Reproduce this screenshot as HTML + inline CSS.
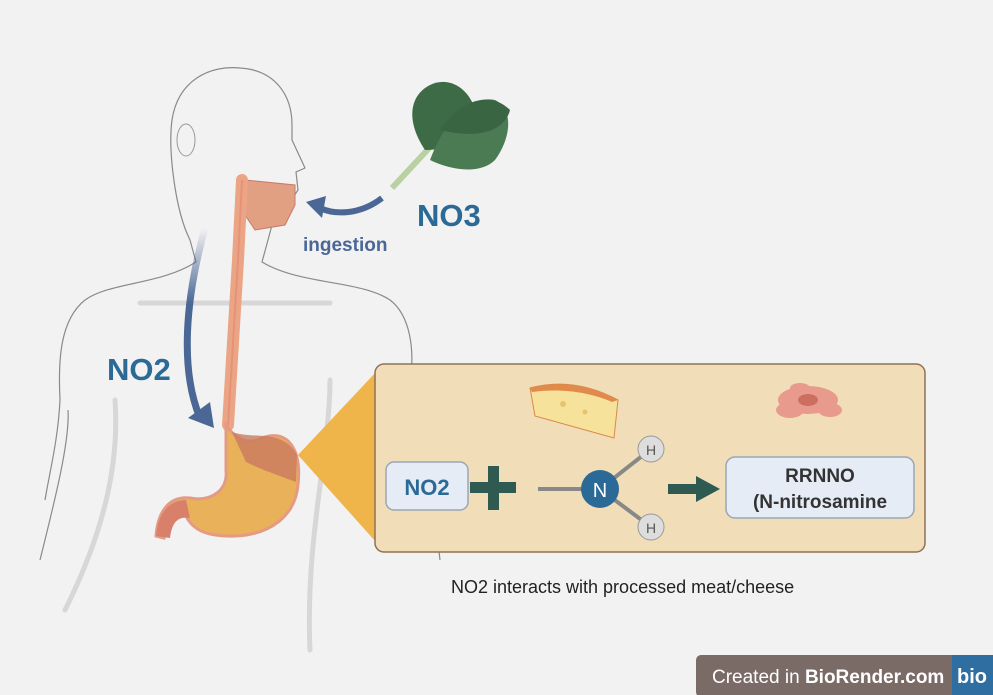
<!DOCTYPE html>
<html><head><meta charset="utf-8"><style>
body{margin:0;width:993px;height:695px;background:#f3f2f2;overflow:hidden;font-family:"Liberation Sans",sans-serif}
svg{position:absolute;left:0;top:0}
</style></head><body>
<svg width="993" height="695" viewBox="0 0 993 695">
<g fill="none" stroke="#8a8a8a" stroke-width="1.2">
<path d="M190,240 C175,210 168,150 172,120 C178,80 210,65 240,68 C275,70 292,95 292,125 L292,140 L305,168 L296,172 L298,190 L288,205 L276,210 L268,240 L262,262 C300,285 360,280 390,300 C410,315 415,350 410,380"/>
<path d="M190,240 L196,262 C160,285 110,282 85,300 C60,320 58,360 60,400 C58,440 50,470 45,500"/>
<path d="M68,410 C70,440 55,500 40,560"/>
<path d="M410,380 C420,430 430,470 440,560"/>
</g>
<g fill="none" stroke="#d8d6d6" stroke-width="5" stroke-linecap="round">
<path d="M115,400 C120,470 100,540 65,610"/>
<path d="M330,380 C330,450 305,540 310,650"/>
<path d="M140,303 L330,303"/>
</g>
<ellipse cx="186" cy="140" rx="9" ry="16" fill="none" stroke="#999"/>
<path d="M245,180 L295,185 L295,205 L285,225 L255,230 L245,215 Z" fill="#e2a083" stroke="#c9786a" stroke-width="1"/>
<path d="M242,180 L238,260 L228,425" stroke="#eba585" stroke-width="12" fill="none" stroke-linecap="round"/>
<path d="M242,180 L238,260 L228,425" stroke="#e6927a" stroke-width="2" fill="none"/>
<path d="M226,425 C236,440 250,445 262,438 C288,428 302,450 298,485 C294,528 250,542 210,534 C196,531 188,522 184,512 C176,510 168,520 164,538 L156,536 C158,510 170,496 190,498 C212,502 228,490 226,470 Z" fill="#e8b15a" stroke="#e59a83" stroke-width="3"/>
<path d="M232,432 C255,440 282,428 297,455 L296,482 C280,476 262,470 246,462 Z" fill="#c97a5f" opacity=".8"/>
<path d="M156,536 C158,512 170,500 186,500 L190,518 C178,516 172,522 170,538 Z" fill="#d8806a"/>
<defs><linearGradient id="g" x1="0" y1="0" x2="0" y2="1"><stop offset="0" stop-color="#4a6796" stop-opacity="0"/><stop offset=".4" stop-color="#4a6796"/></linearGradient></defs>
<path d="M205,228 C185,300 180,370 200,418" stroke="url(#g)" stroke-width="7" fill="none"/>
<path d="M188,418 L214,428 L210,402 Z" fill="#4a6796"/>
<path d="M382,198 C360,215 335,215 320,208" stroke="#4a6796" stroke-width="6" fill="none"/>
<path d="M306,202 L326,196 L322,218 Z" fill="#4a6796"/>
<g>
<path d="M392,188 L432,145" stroke="#b9d1a2" stroke-width="6"/>
<path d="M425,150 C405,120 410,95 430,85 C450,75 470,90 475,110 C480,130 460,150 425,150Z" fill="#3d6b46"/>
<path d="M430,160 C445,120 470,95 495,100 C515,110 510,140 495,160 C480,175 450,170 430,160Z" fill="#4b7b52"/>
<path d="M440,130 C460,100 490,90 510,110 C505,130 480,140 440,130Z" fill="#3a6543"/>
</g>
<path d="M298,455 L376,372 L376,542 Z" fill="#efb54a"/>
<rect x="375" y="364" width="550" height="188" rx="9" fill="#f1ddb8" stroke="#8f7156" stroke-width="1.5"/>
<path d="M530,388 C560,380 590,385 618,400 L614,438 L535,416 Z" fill="#f7e29c" stroke="#d88a4a"/>
<path d="M530,388 C560,380 590,385 618,400 L612,402 C590,392 560,388 532,392Z" fill="#e08a4c"/>
<circle cx="563" cy="404" r="3" fill="#e5c46c"/><circle cx="585" cy="412" r="2.5" fill="#e5c46c"/>
<g fill="#e89a8c"><ellipse cx="808" cy="400" rx="30" ry="14"/><ellipse cx="790" cy="410" rx="14" ry="8"/><ellipse cx="830" cy="410" rx="12" ry="7"/><ellipse cx="800" cy="388" rx="10" ry="5"/></g>
<ellipse cx="808" cy="400" rx="10" ry="6" fill="#cc6e60"/>
<rect x="386" y="462" width="82" height="48" rx="8" fill="#e6ecf5" stroke="#9aa6b6" stroke-width="1.5"/>
<text x="427" y="495" text-anchor="middle" font-size="22" font-weight="bold" fill="#2b6a96">NO2</text>
<rect x="470" y="482" width="46" height="11" fill="#2f5a52"/>
<rect x="488" y="466" width="11" height="44" fill="#2f5a52"/>
<g stroke="#888" stroke-width="4"><line x1="538" y1="489" x2="600" y2="489"/><line x1="600" y1="489" x2="651" y2="449"/><line x1="600" y1="489" x2="651" y2="527"/></g>
<circle cx="600" cy="489" r="19" fill="#2b6a96"/>
<text x="600" y="497" text-anchor="middle" font-size="20" fill="#fff">N</text>
<circle cx="651" cy="449" r="13" fill="#ddd" stroke="#999"/><text x="651" y="455" text-anchor="middle" font-size="14" fill="#555">H</text>
<circle cx="651" cy="527" r="13" fill="#ddd" stroke="#999"/><text x="651" y="533" text-anchor="middle" font-size="14" fill="#555">H</text>
<rect x="668" y="484" width="32" height="10" fill="#2f5a52"/>
<path d="M696,476 L720,489 L696,502 Z" fill="#2f5a52"/>
<rect x="726" y="457" width="188" height="61" rx="9" fill="#e6ecf5" stroke="#9aa6b6" stroke-width="1.5"/>
<text x="820" y="482" text-anchor="middle" font-size="19" font-weight="bold" fill="#333">RRNNO</text>
<text x="820" y="508" text-anchor="middle" font-size="19" font-weight="bold" fill="#333">(N-nitrosamine</text>
<text x="417" y="226" font-size="31" font-weight="bold" fill="#2b6a96">NO3</text>
<text x="303" y="251" font-size="19" font-weight="bold" fill="#4a6796">ingestion</text>
<text x="107" y="380" font-size="31" font-weight="bold" fill="#2b6a96">NO2</text>
<text x="451" y="593" font-size="18" fill="#222">NO2 interacts with processed meat/cheese</text>
<rect x="696" y="655" width="300" height="42" rx="5" fill="#7b6b67"/>
<rect x="952" y="655" width="41" height="40" fill="#2f6ea0"/>
<text x="712" y="683" font-size="19" fill="#fff">Created in <tspan font-weight="bold">BioRender.com</tspan></text>
<text x="972" y="683" text-anchor="middle" font-size="20" font-weight="bold" fill="#fff">bio</text>
</svg>
</body></html>
